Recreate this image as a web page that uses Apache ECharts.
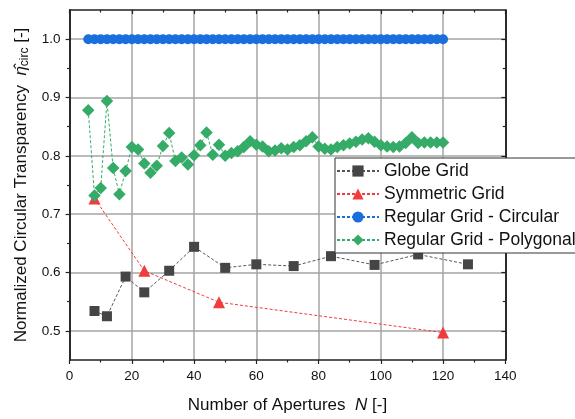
<!DOCTYPE html>
<html>
<head>
<meta charset="utf-8">
<script src="https://cdn.jsdelivr.net/npm/echarts@6/dist/echarts.min.js"></script>
<style>
    html, body { margin: 0; padding: 0; background: #fff; }
    #chart { width: 575px; height: 419px; }
</style>
</head>
<body>
<div id="chart"></div>
<script>
// 数据：横坐标为孔径数 N
var globeN = [8, 12, 18, 24, 32, 40, 50, 60, 72, 84, 98, 112, 128];
var globeVal = [0.534, 0.525, 0.593, 0.566, 0.603, 0.644, 0.608, 0.614, 0.611, 0.628, 0.613, 0.631, 0.614];

var symN = [8, 24, 48, 120];
var symVal = [0.727, 0.603, 0.549, 0.497];

var regularN = [6, 8, 10, 12, 14, 16, 18, 20, 22, 24, 26, 28, 30, 32, 34, 36, 38, 40, 42, 44,
    46, 48, 50, 52, 54, 56, 58, 60, 62, 64, 66, 68, 70, 72, 74, 76, 78, 80, 82, 84,
    86, 88, 90, 92, 94, 96, 98, 100, 102, 104, 106, 108, 110, 112, 114, 116, 118, 120];
var circVal = [1, 1, 1, 1, 1, 1, 1, 1, 1, 1, 1, 1, 1, 1, 1, 1, 1, 1, 1, 1,
    1, 1, 1, 1, 1, 1, 1, 1, 1, 1, 1, 1, 1, 1, 1, 1, 1, 1, 1, 1,
    1, 1, 1, 1, 1, 1, 1, 1, 1, 1, 1, 1, 1, 1, 1, 1, 1, 1];
var polyVal = [0.878, 0.732, 0.745, 0.894, 0.779, 0.734, 0.774, 0.815, 0.811, 0.787,
    0.771, 0.783, 0.817, 0.839, 0.791, 0.797, 0.785, 0.801, 0.818, 0.840,
    0.802, 0.819, 0.800, 0.805, 0.808, 0.815, 0.825, 0.819, 0.816, 0.808,
    0.809, 0.813, 0.811, 0.815, 0.818, 0.825, 0.832, 0.816, 0.812, 0.811,
    0.815, 0.818, 0.821, 0.824, 0.828, 0.830, 0.824, 0.818, 0.816, 0.815,
    0.816, 0.822, 0.832, 0.822, 0.823, 0.823, 0.823, 0.823];

// 刻度
var yMajorTicks = [0.5, 0.6, 0.7, 0.8, 0.9, 1.0];
var yMinorTicks = [0.55, 0.65, 0.75, 0.85, 0.95];

function pairs(xs, ys) {
    var out = [];
    for (var i = 0; i < xs.length; i++) {
        out.push([xs[i], ys[i]]);
    }
    return out;
}

var chart = echarts.init(document.getElementById('chart'));
var frame = { show: true, lineStyle: { color: '#222', width: 1.5 } };
var font = 'Liberation Sans, Arial, sans-serif';

function yAxisDef(pos, ticks, len, isMain) {
    return {
        type: 'value',
        position: pos,
        min: 0.45,
        max: 1.05,
        interval: 0.05,
        axisLine: frame,
        axisTick: {
            show: true, inside: pos === 'right', length: len, customValues: ticks,
            lineStyle: { color: '#222', width: 1.2 }
        },
        axisLabel: isMain ? {
            show: true, customValues: yMajorTicks, margin: 9,
            color: '#111', fontSize: 13.5, fontFamily: font,
            formatter: function (v) { return v.toFixed(1); }
        } : { show: false },
        splitLine: isMain ? { show: true, lineStyle: { color: '#a4a4a4', width: 1.5 } } : { show: false },
        name: isMain ? 'Normalized Circular Transparency  {eta|η\u0302}{sub|circ} [-]' : '',
        nameLocation: 'middle',
        nameGap: 36,
        nameTextStyle: {
            color: '#111', fontSize: 17, fontFamily: font,
            rich: {
                eta: { fontSize: 17, fontStyle: 'italic', fontFamily: font, color: '#111' },
                sub: { fontSize: 12, fontFamily: font, color: '#111', verticalAlign: 'bottom', padding: [7, 0, 0, 0] }
            }
        }
    };
}

var option = {
    animation: false,
    grid: { left: 69.6, right: 69.7, top: 10, bottom: 58, containLabel: false },
    legend: {
        orient: 'vertical',
        left: 335,
        top: 158,
        padding: [4, 20, 4, 1],
        itemGap: 5,
        itemWidth: 42,
        itemHeight: 14,
        backgroundColor: '#fff',
        borderColor: '#333',
        borderWidth: 1,
        borderRadius: 0,
        textStyle: { color: '#111', fontSize: 17.5, fontFamily: font, lineHeight: 17 },
        data: ['Globe Grid', 'Symmetric Grid', 'Regular Grid - Circular', 'Regular Grid - Polygonal']
    },
    xAxis: [{
        type: 'value',
        position: 'bottom',
        min: 0,
        max: 140,
        interval: 20,
        axisLine: frame,
        axisTick: { show: true, length: 4, lineStyle: { color: '#222', width: 1.2 } },
        minorTick: { show: true, splitNumber: 2, length: 2.5, lineStyle: { color: '#222', width: 1.2 } },
        axisLabel: { color: '#111', fontSize: 13.5, fontFamily: font, margin: 9 },
        splitLine: { show: true, lineStyle: { color: '#a4a4a4', width: 1.5 } },
        name: 'Number of Apertures  {it|N} [-]',
        nameLocation: 'middle',
        nameGap: 37,
        nameTextStyle: {
            color: '#111', fontSize: 17, fontFamily: font,
            rich: { it: { fontSize: 17, fontStyle: 'italic', fontFamily: font, color: '#111' } }
        }
    }, {
        type: 'value',
        position: 'top',
        min: 0,
        max: 140,
        interval: 20,
        axisLine: frame,
        axisTick: { show: true, inside: true, length: 4, lineStyle: { color: '#222', width: 1.2 } },
        minorTick: { show: true, splitNumber: 2, length: 2.5, lineStyle: { color: '#222', width: 1.2 } },
        axisLabel: { show: false },
        splitLine: { show: false }
    }],
    yAxis: [
        yAxisDef('left', yMajorTicks, 4, true),
        yAxisDef('left', yMinorTicks, 2.5, false),
        yAxisDef('right', yMajorTicks, 4, false),
        yAxisDef('right', yMinorTicks, 2.5, false)
    ],
    series: [{
        name: 'Globe Grid',
        type: 'line',
        data: pairs(globeN, globeVal),
        symbol: 'rect',
        symbolSize: 10,
        itemStyle: { color: '#454545' },
        lineStyle: { color: '#555', width: 1, type: [3, 2] },
        z: 3
    }, {
        name: 'Symmetric Grid',
        type: 'line',
        data: pairs(symN, symVal),
        symbol: 'triangle',
        symbolSize: 12,
        itemStyle: { color: '#f03c3c' },
        lineStyle: { color: '#f03c3c', width: 1, type: [3, 2] },
        z: 2
    }, {
        name: 'Regular Grid - Circular',
        type: 'line',
        data: pairs(regularN, circVal),
        symbol: 'circle',
        symbolSize: 10,
        itemStyle: { color: '#1b6fdc' },
        lineStyle: { color: '#1b6fdc', width: 1, type: [3, 2] },
        z: 4
    }, {
        name: 'Regular Grid - Polygonal',
        type: 'line',
        data: pairs(regularN, polyVal),
        symbol: 'diamond',
        symbolSize: 12.5,
        itemStyle: { color: '#35ab68' },
        lineStyle: { color: '#35ab68', width: 1, type: [3, 2] },
        z: 5
    }]
};

chart.setOption(option);

window.onresize = function () {
    chart.resize();
};
</script>
</body>
</html>
